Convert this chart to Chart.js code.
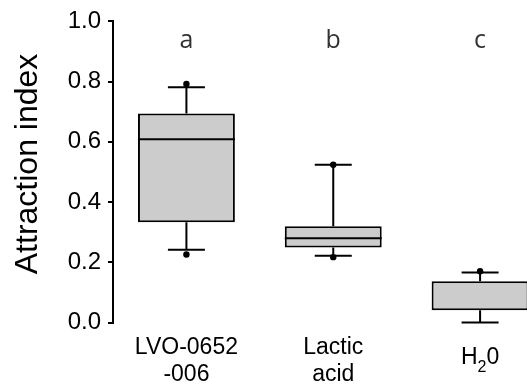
<!DOCTYPE html>
<html lang="en">

<head>
    <meta charset="UTF-8">
    <title>Attraction index</title>
    <script src="https://cdn.jsdelivr.net/npm/chart.js"></script>
    <style>
        html, body {
            margin: 0;
            padding: 0;
            background: #fff;
            overflow: hidden;
        }

        #box {
            display: block;
        }
    </style>
</head>

<body>
    <canvas id="box" width="560" height="386"></canvas>

    <script>
        // Groups and their box statistics
        const categories = [['LVO-0652', '-006'], ['Lactic', 'acid'], ['H₂0']];
        const q1 = [0.333, 0.249, 0.041];
        const median = [0.609, 0.280, 0.041];
        const q3 = [0.694, 0.320, 0.137];
        const whiskerLow = [0.242, 0.222, 0.0];
        const whiskerHigh = [0.781, 0.524, 0.166];
        const pointsHigh = [0.792, 0.524, 0.170];
        const pointsLow = [0.226, 0.217, null];
        const letters = ['a', 'b', 'c'];
        const yTicks = [0, 0.2, 0.4, 0.6, 0.8, 1.0];

        const LETTER_Y = 0.91;   // height of the significance letters
        const CAP_HALF = 18.5;   // half width of whisker caps, px

        Chart.defaults.font.family = "'Liberation Sans', Arial, sans-serif";
        Chart.defaults.color = '#000';

        // whiskers, medians, letters and the custom axis text
        const boxExtras = {
            id: 'boxExtras',
            beforeDatasetsDraw(chart) {
                const { ctx, scales: { x, y } } = chart;
                ctx.save();
                ctx.strokeStyle = '#000';
                ctx.lineWidth = 2;
                categories.forEach((c, i) => {
                    const cx = x.getPixelForValue(i);
                    const segs = [[q3[i], whiskerHigh[i]], [q1[i], whiskerLow[i]]];
                    segs.forEach(([from, to]) => {
                        const y0 = y.getPixelForValue(from);
                        const y1 = y.getPixelForValue(to);
                        ctx.beginPath();
                        ctx.moveTo(cx, y0);
                        ctx.lineTo(cx, y1);
                        ctx.moveTo(cx - CAP_HALF, y1);
                        ctx.lineTo(cx + CAP_HALF, y1);
                        ctx.stroke();
                    });
                });
                ctx.restore();
            },
            afterDatasetsDraw(chart) {
                const { ctx, scales: { x, y } } = chart;
                const bars = chart.getDatasetMeta(0).data;
                ctx.save();
                ctx.strokeStyle = '#000';
                ctx.lineWidth = 2;
                bars.forEach((bar, i) => {
                    // a median sitting on a box edge is already drawn by the border
                    if (median[i] === q1[i] || median[i] === q3[i]) return;
                    const my = y.getPixelForValue(median[i]);
                    ctx.beginPath();
                    ctx.moveTo(bar.x - bar.width / 2, my);
                    ctx.lineTo(bar.x + bar.width / 2, my);
                    ctx.stroke();
                });

                // letters above the boxes
                ctx.fillStyle = '#333';
                ctx.font = "25px 'Open Sans', sans-serif";
                ctx.textAlign = 'center';
                ctx.textBaseline = 'alphabetic';
                letters.forEach((t, i) => {
                    ctx.fillText(t, x.getPixelForValue(i), y.getPixelForValue(LETTER_Y));
                });

                // category labels under the axis, with subscripts
                ctx.fillStyle = '#000';
                const base = y.bottom + 31;
                categories.forEach((lines, i) => {
                    const cx = x.getPixelForValue(i);
                    const first = lines.length > 1 ? base : base + 10;
                    lines.forEach((line, k) => {
                        drawRich(ctx, line, cx, first + k * 27);
                    });
                });

                // y-axis title
                ctx.font = "32px 'Liberation Sans', Arial, sans-serif";
                ctx.translate(37, (y.top + y.bottom) / 2 - 8);
                ctx.rotate(-Math.PI / 2);
                ctx.textAlign = 'center';
                ctx.fillText('Attraction index', 0, 0);
                ctx.restore();
            }
        };

        // centred text where ₂ is drawn as a small lowered 2
        function drawRich(ctx, text, cx, by) {
            const big = "23px 'Liberation Sans', Arial, sans-serif";
            const small = "16px 'Liberation Sans', Arial, sans-serif";
            const parts = text.split(/(₂)/).filter(p => p);
            const widths = parts.map(p => {
                ctx.font = p === '₂' ? small : big;
                return ctx.measureText(p === '₂' ? '2' : p).width;
            });
            let px = cx - widths.reduce((a, b) => a + b, 0) / 2;
            ctx.textAlign = 'left';
            parts.forEach((p, j) => {
                if (p === '₂') {
                    ctx.font = small;
                    ctx.fillText('2', px, by + 8);
                } else {
                    ctx.font = big;
                    ctx.fillText(p, px, by);
                }
                px += widths[j];
            });
        }

        const ctx = document.getElementById('box').getContext('2d');

        const chart = new Chart(ctx, {
            type: 'bar',
            data: {
                labels: categories.map(l => l.join(' ')),
                datasets: [{
                    data: q1.map((v, i) => [v, q3[i]]),
                    backgroundColor: '#cccccc',
                    borderColor: '#000',
                    borderWidth: 2,
                    borderSkipped: false,
                    barPercentage: 0.66,
                    categoryPercentage: 1,
                }, {
                    type: 'line',
                    data: pointsHigh,
                    showLine: false,
                    pointRadius: 3.2,
                    pointBackgroundColor: '#000',
                    pointBorderWidth: 0,
                }, {
                    type: 'line',
                    data: pointsLow,
                    showLine: false,
                    pointRadius: 3.2,
                    pointBackgroundColor: '#000',
                    pointBorderWidth: 0,
                }],
            },
            options: {
                responsive: false,
                animation: false,
                layout: {
                    padding: { top: 20, right: 6.5, bottom: 63.5, left: 0 },
                },
                plugins: {
                    legend: { display: false },
                    tooltip: { enabled: false },
                },
                scales: {
                    x: {
                        display: false,
                        offset: true,
                    },
                    y: {
                        min: 0,
                        max: 1,
                        afterFit: s => { s.width = 113; },
                        afterBuildTicks: s => { s.ticks = yTicks.map(v => ({ value: v })); },
                        ticks: {
                            padding: 7,
                            font: { size: 24 },
                            color: '#000',
                            callback: v => v.toFixed(1),
                        },
                        grid: {
                            drawOnChartArea: false,
                            drawTicks: true,
                            tickLength: 5,
                            color: '#000',
                            lineWidth: 2,
                        },
                        border: {
                            display: true,
                            color: '#000',
                            width: 2,
                        },
                    },
                },
            },
            plugins: [boxExtras],
        });
    </script>
</body>

</html>
